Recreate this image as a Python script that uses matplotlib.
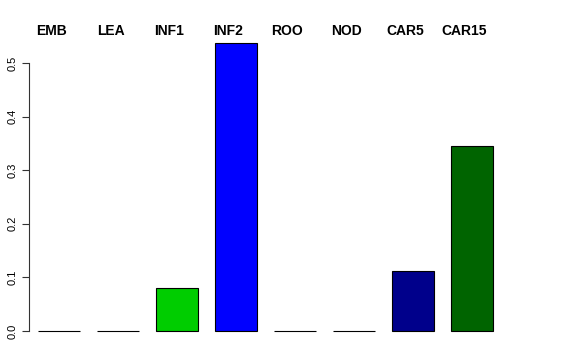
import matplotlib
matplotlib.use("Agg")
import matplotlib.pyplot as plt
import matplotlib.transforms as mtransforms

tissues = ["EMB", "LEA", "INF1", "INF2", "ROO", "NOD", "CAR5", "CAR15"]
values = [0.0, 0.0, 0.080, 0.537, 0.0, 0.0, 0.112, 0.345]
colors = ["#FFFFFF", "#FFFFFF", "#00CD00", "#0000FF", "#FFFFFF", "#FFFFFF", "#00008B", "#006400"]
yticks = [0.0, 0.1, 0.2, 0.3, 0.4, 0.5]

plt.rcParams['font.family'] = ['Liberation Sans', 'DejaVu Sans']

W, H = 576, 360
fig = plt.figure(figsize=(W / 100, H / 100), dpi=100)

# axes placed in pixel terms: y=0 at row 331, x spine at column 29
left_px, right_px = 29, 520
bottom_row, top_row = 331, 20
ax = fig.add_axes([left_px / W, (H - bottom_row) / H,
                   (right_px - left_px) / W, (bottom_row - top_row) / H])

step = 59.0
x0 = 59.0
ax.set_xlim((left_px - x0) / step, (right_px - x0) / step)
ax.set_ylim(0, (bottom_row - top_row) / 536.0)

xs = list(range(len(tissues)))
bars = ax.bar(xs, values, width=42 / step, color=colors, edgecolor="black", linewidth=0.8)
for b in bars:
    b.set_clip_on(False)

for s in ["top", "right", "bottom"]:
    ax.spines[s].set_visible(False)
ax.spines["left"].set_bounds(0, 0.5)
ax.spines["left"].set_color("#333333")
ax.set_xticks([])
ax.set_yticks(yticks)
ax.set_yticklabels([f"{t:.1f}" for t in yticks], rotation=90, va="center", fontsize=8)
ax.tick_params(axis="y", length=5, width=0.8, pad=3, color="#333333")

# the column names sit a little left of the bar centres in the original
trans = mtransforms.blended_transform_factory(ax.transData, fig.transFigure)
for x, name in zip(xs, tissues):
    ax.text(x - 7.5 / step, (H - 35) / H, name, transform=trans, ha="center", va="baseline",
            fontsize=10, fontweight="bold")

fig.savefig("out.png", dpi=100)
